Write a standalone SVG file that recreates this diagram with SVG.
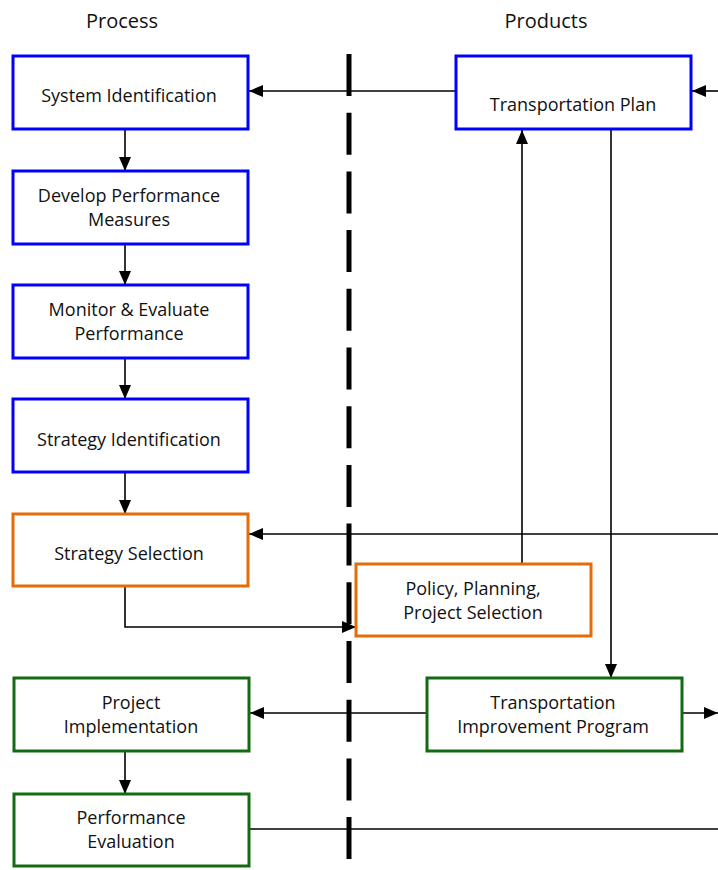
<svg xmlns="http://www.w3.org/2000/svg" width="718" height="870" viewBox="0 0 718 870">
<style>
text{font-family:"Open Sans","Lato","Liberation Sans",sans-serif;font-size:18px;fill:#111;text-anchor:middle}
.hdr{font-size:20px}
.box{fill:#fff;stroke-width:3}
.blue{stroke:#0000ff}
.orange{stroke:#e46c0a}
.green{stroke:#136a13}
.c{fill:none;stroke:#000;stroke-width:1.6}
.a{marker-end:url(#ah)}
</style>
<defs>
<marker id="ah" viewBox="0 0 14 12" refX="14" refY="6" markerWidth="14" markerHeight="12" markerUnits="userSpaceOnUse" orient="auto">
<path d="M0,0 L14,6 L0,12 Z" fill="#000"/>
</marker>
</defs>
<rect width="718" height="870" fill="#fff"/>
<text class="hdr" x="122" y="28">Process</text>
<text class="hdr" x="546" y="28">Products</text>
<line x1="349" y1="54" x2="349" y2="859" stroke="#000" stroke-width="5" stroke-dasharray="42 16.7"/>
<g id="connectors">
<path class="c a" d="M456,91 H249"/>
<path class="c a" d="M718,91 H692"/>
<path class="c a" d="M125,130 V171"/>
<path class="c a" d="M125,245 V285"/>
<path class="c a" d="M125,359 V399"/>
<path class="c a" d="M125,473 V514"/>
<path class="c a" d="M522,564 V130"/>
<path class="c a" d="M611,130 V678"/>
<path class="c a" d="M718,534 H249"/>
<path class="c a" d="M125,587 V627 H356"/>
<path class="c a" d="M427,713 H250"/>
<path class="c a" d="M682,713 H718"/>
<path class="c a" d="M125,752 V794"/>
<path class="c" d="M250,829 H718"/>
</g>
<g id="system-identification"><rect class="box blue" x="13" y="56" width="235" height="73"/><text x="129" y="102">System Identification</text></g>
<g id="develop-performance-measures"><rect class="box blue" x="13" y="171" width="235" height="73"/><text x="129" y="202">Develop Performance</text><text x="129" y="226">Measures</text></g>
<g id="monitor-evaluate"><rect class="box blue" x="13" y="285" width="235" height="73"/><text x="129" y="316">Monitor &amp; Evaluate</text><text x="129" y="340">Performance</text></g>
<g id="strategy-identification"><rect class="box blue" x="13" y="399" width="235" height="73"/><text x="129" y="446">Strategy Identification</text></g>
<g id="strategy-selection"><rect class="box orange" x="13" y="514" width="235" height="72"/><text x="129" y="560">Strategy Selection</text></g>
<g id="transportation-plan"><rect class="box blue" x="456" y="56" width="235" height="73"/><text x="573" y="111">Transportation Plan</text></g>
<g id="policy-planning"><rect class="box orange" x="356" y="564" width="235" height="72"/><text x="473" y="595">Policy, Planning,</text><text x="473" y="619">Project Selection</text></g>
<g id="project-implementation"><rect class="box green" x="14" y="678" width="235" height="73"/><text x="131" y="709">Project</text><text x="131" y="733">Implementation</text></g>
<g id="tip"><rect class="box green" x="427" y="678" width="255" height="73"/><text x="553" y="709">Transportation</text><text x="553" y="733">Improvement Program</text></g>
<g id="performance-evaluation"><rect class="box green" x="14" y="794" width="235" height="72"/><text x="131" y="824">Performance</text><text x="131" y="848">Evaluation</text></g>
</svg>
